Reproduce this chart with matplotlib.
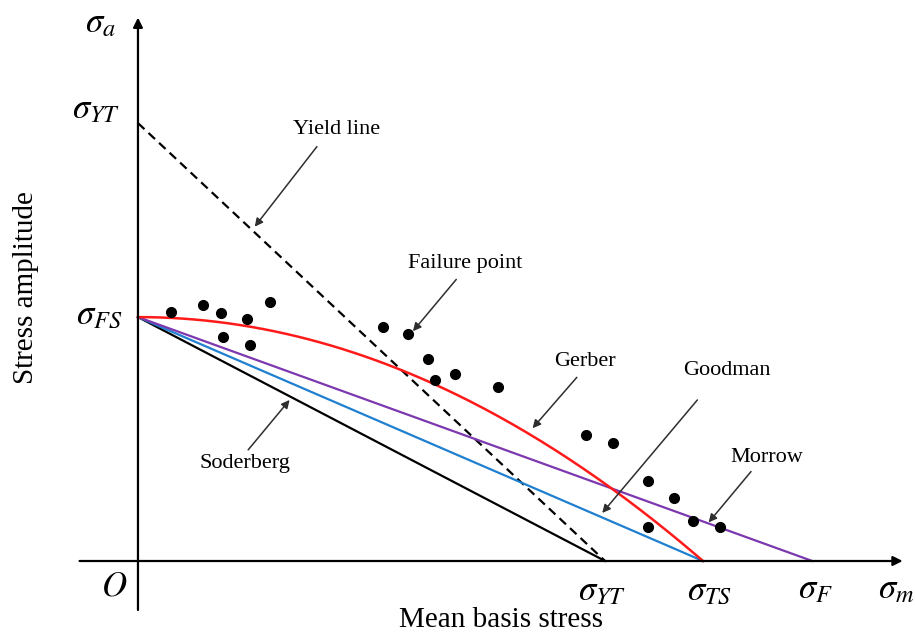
import matplotlib
matplotlib.use("Agg")
import matplotlib.pyplot as plt

plt.rcParams['font.family'] = ['Liberation Serif', 'DejaVu Serif']
plt.rcParams['mathtext.fontset'] = 'stix'

# characteristic stresses (schematic units)
sigma_fs = 259      # fatigue strength (amplitude at zero mean)
sigma_yt_a = 465    # yield intercept on the amplitude axis
sigma_yt = 496      # yield strength on the mean axis
sigma_ts = 600      # tensile strength
sigma_f = 716       # true fracture strength

# experimental failure points
fail_m = [35, 69, 88, 116, 140, 90, 119, 260, 287, 308, 315, 337, 382,
          476, 504, 542, 569, 589, 618, 542]
fail_a = [264, 272, 263, 257, 275, 238, 229, 248, 241, 214, 192, 199, 185,
          134, 125, 85, 67, 42, 36, 36]

n_curve = 200
sm_gerber = [sigma_ts * i / (n_curve - 1) for i in range(n_curve)]
sa_gerber = [sigma_fs * (1 - (m / sigma_ts) ** 2) for m in sm_gerber]

fig = plt.figure(figsize=(9.15, 6.37), dpi=100)
ax = fig.add_axes([0, 0, 1, 1])
ax.set_xlim(-146.5, 825.1)
ax.set_ylim(-80.7, 595.7)
ax.axis('off')

# coordinate axes with arrow heads
ax.annotate('', xy=(812, 0), xytext=(-62, 0),
            arrowprops=dict(arrowstyle='-|>', lw=1.6, color='black',
                            mutation_scale=14, shrinkA=0, shrinkB=0))
ax.annotate('', xy=(0, 577), xytext=(0, -52),
            arrowprops=dict(arrowstyle='-|>', lw=1.6, color='black',
                            mutation_scale=14, shrinkA=0, shrinkB=0))

# criteria
ax.plot([0, sigma_yt], [sigma_yt_a, 0], ls=(0, (4, 2.5)), color='black', lw=1.6)
ax.plot([0, sigma_yt], [sigma_fs, 0], color='black', lw=1.6)
ax.plot([0, sigma_ts], [sigma_fs, 0], color='#1f7fd0', lw=1.6)
ax.plot([0, sigma_f], [sigma_fs, 0], color='#7d37af', lw=1.6)
ax.plot(sm_gerber, sa_gerber, color='#ff1a1a', lw=1.8)

ax.plot(fail_m, fail_a, 'o', color='black', ms=7, ls='none')

# callouts
arrow_kw = dict(arrowstyle='-|>', lw=1.1, color='#2e2e2e',
                mutation_scale=12, shrinkA=0, shrinkB=0)
callouts = [
    ('Yield line', (211, 458), (190, 440), (124, 355)),
    ('Failure point', (347, 316), (338, 299), (292, 244)),
    ('Gerber', (475, 212), (466, 195), (419, 141)),
    ('Goodman', (625, 202), (594, 171), (493, 51)),
    ('Morrow', (668, 110), (651, 95), (606, 41)),
    ('Soderberg', (114, 104), (117, 118), (161, 171)),
]
for label, txt_pos, start, tip in callouts:
    ax.text(*txt_pos, label, fontsize=16, ha='center', va='center')
    ax.annotate('', xy=tip, xytext=start, arrowprops=arrow_kw)

# axis symbols
sym_kw = dict(fontsize=25, ha='center', va='center')
ax.text(-40, 571, r'$\sigma_a$', **sym_kw)
ax.text(-45, 479, r'$\sigma_{YT}$', **sym_kw)
ax.text(-41, 261, r'$\sigma_{FS}$', **sym_kw)
ax.text(-25, -28, r'$O$', **sym_kw)
ax.text(493, -33, r'$\sigma_{YT}$', **sym_kw)
ax.text(607, -33, r'$\sigma_{TS}$', **sym_kw)
ax.text(719, -31, r'$\sigma_F$', **sym_kw)
ax.text(805, -31, r'$\sigma_m$', **sym_kw)

ax.text(-119, 290, 'Stress amplitude', fontsize=21, rotation=90,
        ha='center', va='center')
ax.text(385, -63, 'Mean basis stress', fontsize=21, ha='center', va='center')

fig.savefig('out.png', dpi=100)
